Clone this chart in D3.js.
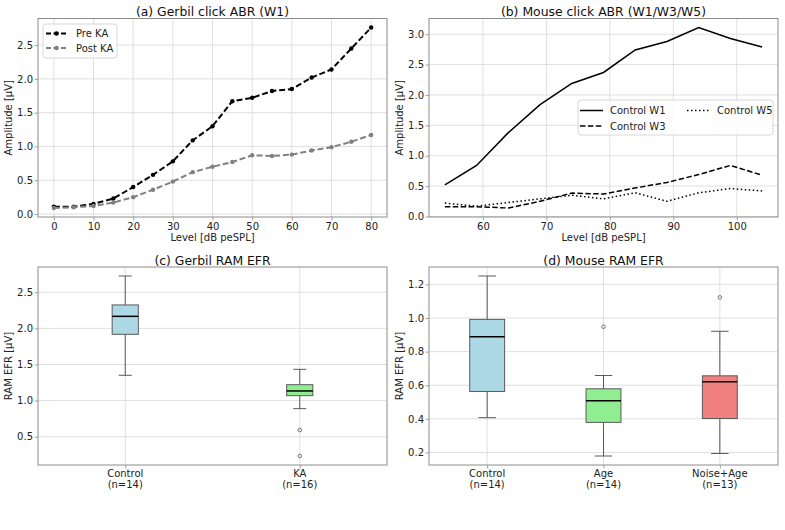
<!DOCTYPE html>
<html>
<head>
<meta charset="utf-8">
<script src="https://cdn.jsdelivr.net/npm/d3@7"></script>
<style>
  body { margin: 0; background: #fff; }
  text { font-family: "DejaVu Sans", sans-serif; }
</style>
</head>
<body>
<script>
const width = 785;
const height = 530;

// (a) gerbil click ABR, wave 1
const gerbilLevels = [0, 5, 10, 15, 20, 25, 30, 35, 40, 45, 50, 55, 60, 65, 70, 75, 80];
const preKA = [0.11, 0.11, 0.15, 0.23, 0.40, 0.58, 0.78, 1.09, 1.30, 1.67, 1.72, 1.82, 1.85, 2.02, 2.14, 2.45, 2.76];
const postKA = [0.09, 0.10, 0.12, 0.17, 0.25, 0.36, 0.48, 0.62, 0.70, 0.77, 0.87, 0.86, 0.88, 0.94, 0.99, 1.07, 1.17];

// (b) mouse click ABR, waves 1/3/5
const mouseLevels = [54, 59, 64, 69, 74, 79, 84, 89, 94, 99, 104];
const controlW1 = [0.52, 0.84, 1.38, 1.84, 2.19, 2.37, 2.74, 2.88, 3.11, 2.93, 2.79];
const controlW3 = [0.16, 0.16, 0.14, 0.25, 0.385, 0.37, 0.47, 0.56, 0.69, 0.84, 0.68];
const controlW5 = [0.22, 0.17, 0.23, 0.29, 0.35, 0.29, 0.39, 0.25, 0.39, 0.46, 0.42];

// (c) gerbil RAM EFR box stats
const gerbilGroups = ["Control", "KA"];
const gerbilCounts = ["(n=14)", "(n=16)"];
const gerbilColors = ["#add8e6", "#90ee90"];
const gerbilBoxes = [
  { lo: 1.35, q1: 1.918, med: 2.167, q3: 2.325, hi: 2.726, out: [] },
  { lo: 0.888, q1: 1.068, med: 1.133, q3: 1.22, hi: 1.433, out: [0.592, 0.232] }
];

// (d) mouse RAM EFR box stats
const mouseGroups = ["Control", "Age", "Noise+Age"];
const mouseCounts = ["(n=14)", "(n=14)", "(n=13)"];
const mouseColors = ["#add8e6", "#90ee90", "#f08080"];
const mouseBoxes = [
  { lo: 0.407, q1: 0.563, med: 0.889, q3: 0.992, hi: 1.25, out: [] },
  { lo: 0.179, q1: 0.379, med: 0.507, q3: 0.579, hi: 0.658, out: [0.948] },
  { lo: 0.194, q1: 0.402, med: 0.621, q3: 0.656, hi: 0.921, out: [1.123] }
];

const svg = d3.select("body").append("svg")
  .attr("width", width)
  .attr("height", height)
  .style("background", "#fff");

const gridColor = "#dcdcdc";
const spineColor = "#8c8c8c";
const txt = "#222";

function pad(lo, hi) {
  const m = (hi - lo) * 0.05;
  return [lo - m, hi + m];
}

function frame(box, x, y, xTicks, yTicks, yFmt, title, xLabel, yLabel, xTickFmt) {
  const g = svg.append("g");

  // grid
  g.append("g").selectAll("line").data(xTicks).join("line")
    .attr("x1", d => x(d)).attr("x2", d => x(d))
    .attr("y1", box.y0).attr("y2", box.y1)
    .attr("stroke", gridColor).attr("stroke-width", 0.9);
  g.append("g").selectAll("line").data(yTicks).join("line")
    .attr("x1", box.x0).attr("x2", box.x1)
    .attr("y1", d => y(d)).attr("y2", d => y(d))
    .attr("stroke", gridColor).attr("stroke-width", 0.9);

  // axes
  const xa = g.append("g")
    .attr("transform", `translate(0,${box.y1})`)
    .call(d3.axisBottom(x).tickValues(xTicks).tickSize(3.5).tickPadding(2).tickFormat(xTickFmt || d3.format("d")));
  const ya = g.append("g")
    .attr("transform", `translate(${box.x0},0)`)
    .call(d3.axisLeft(y).tickValues(yTicks).tickSize(3.5).tickPadding(1.5).tickFormat(yFmt));
  [xa, ya].forEach(a => {
    a.select(".domain").remove();
    a.selectAll(".tick line").attr("stroke", spineColor).attr("stroke-width", 0.8);
    a.selectAll(".tick text").attr("fill", txt).style("font-size", "10px");
  });

  // title and labels
  g.append("text")
    .attr("x", (box.x0 + box.x1) / 2).attr("y", box.y0 - 2.5)
    .attr("text-anchor", "middle").style("font-size", "12.4px").attr("fill", "#111")
    .text(title);
  if (xLabel) {
    g.append("text")
      .attr("x", (box.x0 + box.x1) / 2).attr("y", box.y1 + 24)
      .attr("text-anchor", "middle").style("font-size", "10px").attr("fill", txt)
      .text(xLabel);
  }
  g.append("text")
    .attr("transform", `translate(${box.x0 - 26},${(box.y0 + box.y1) / 2}) rotate(-90)`)
    .attr("text-anchor", "middle").style("font-size", "10px").attr("fill", txt)
    .text(yLabel);
  return g;
}

function spines(box) {
  svg.append("rect")
    .attr("x", box.x0).attr("y", box.y0)
    .attr("width", box.x1 - box.x0).attr("height", box.y1 - box.y0)
    .attr("fill", "none").attr("stroke", spineColor).attr("stroke-width", 1);
}

const fmt1 = d3.format(".1f");

// ---------- (a) ----------
const pa = { x0: 38, x1: 387, y0: 18.5, y1: 217 };
const xa = d3.scaleLinear().domain(pad(0, 80)).range([pa.x0, pa.x1]);
const ya = d3.scaleLinear().domain(pad(d3.min(postKA), d3.max(preKA))).range([pa.y1, pa.y0]);
frame(pa, xa, ya, [0, 10, 20, 30, 40, 50, 60, 70, 80], [0, 0.5, 1, 1.5, 2, 2.5], fmt1,
  "(a) Gerbil click ABR (W1)", "Level [dB peSPL]", "Amplitude [µV]");

const lineA = d3.line().x(d => xa(d[0])).y(d => ya(d[1]));
[[preKA, "#000"], [postKA, "#808080"]].forEach(([vals, col]) => {
  const pts = gerbilLevels.map((l, i) => [l, vals[i]]);
  svg.append("path").datum(pts).attr("d", lineA)
    .attr("fill", "none").attr("stroke", col).attr("stroke-width", 2)
    .attr("stroke-dasharray", "6,2.8");
  svg.append("g").selectAll("circle").data(pts).join("circle")
    .attr("cx", d => xa(d[0])).attr("cy", d => ya(d[1])).attr("r", 2.2)
    .attr("fill", col);
});
spines(pa);

// legend (a)
const lgA = svg.append("g");
lgA.append("rect").attr("x", 43).attr("y", 24).attr("width", 74).attr("height", 34).attr("rx", 3)
  .attr("fill", "#fff").attr("fill-opacity", 0.85).attr("stroke", "#d8d8d8");
[["Pre KA", "#000"], ["Post KA", "#808080"]].forEach(([name, col], i) => {
  const yy = 33.5 + i * 14.5;
  lgA.append("line").attr("x1", 46).attr("x2", 67).attr("y1", yy).attr("y2", yy)
    .attr("stroke", col).attr("stroke-width", 2).attr("stroke-dasharray", "5,2.5");
  lgA.append("circle").attr("cx", 56.5).attr("cy", yy).attr("r", 2.2).attr("fill", col);
  lgA.append("text").attr("x", 76).attr("y", yy + 3.6).style("font-size", "10px").attr("fill", txt).text(name);
});

// ---------- (b) ----------
const pb = { x0: 429, x1: 778, y0: 18.5, y1: 217 };
const xb = d3.scaleLinear().domain(pad(54, 104)).range([pb.x0, pb.x1]);
const yb = d3.scaleLinear().domain(pad(d3.min(controlW3), d3.max(controlW1))).range([pb.y1, pb.y0]);
frame(pb, xb, yb, [60, 70, 80, 90, 100], [0, 0.5, 1, 1.5, 2, 2.5, 3], fmt1,
  "(b) Mouse click ABR (W1/W3/W5)", "Level [dB peSPL]", "Amplitude [µV]");

const lineB = d3.line().x(d => xb(d[0])).y(d => yb(d[1]));
const mouseSeries = [
  { name: "Control W1", vals: controlW1, dash: null },
  { name: "Control W3", vals: controlW3, dash: "5.5,2.4" },
  { name: "Control W5", vals: controlW5, dash: "1.5,2.5" }
];
mouseSeries.forEach(s => {
  const pts = mouseLevels.map((l, i) => [l, s.vals[i]]);
  svg.append("path").datum(pts).attr("d", lineB)
    .attr("fill", "none").attr("stroke", "#000").attr("stroke-width", 1.5)
    .attr("stroke-dasharray", s.dash);
});
spines(pb);

// legend (b), two columns
const lgB = svg.append("g");
lgB.append("rect").attr("x", 578).attr("y", 100).attr("width", 195).attr("height", 35).attr("rx", 3)
  .attr("fill", "#fff").attr("fill-opacity", 0.85).attr("stroke", "#d8d8d8");
const lgPos = [[580, 110.5], [580, 126], [687, 110.5]];
mouseSeries.forEach((s, i) => {
  const [lx, ly] = lgPos[i];
  lgB.append("line").attr("x1", lx).attr("x2", lx + 23).attr("y1", ly).attr("y2", ly)
    .attr("stroke", "#000").attr("stroke-width", 1.5).attr("stroke-dasharray", s.dash);
  lgB.append("text").attr("x", lx + 30).attr("y", ly + 3.6).style("font-size", "10px").attr("fill", txt).text(s.name);
});

// ---------- box plots ----------
function boxPanel(box, groups, counts, colors, stats, yTicks, yFmt, title) {
  const n = groups.length;
  const x = d3.scaleLinear().domain([0.5, n + 0.5]).range([box.x0, box.x1]);
  const allVals = stats.flatMap(s => [s.lo, s.hi, ...s.out]);
  const y = d3.scaleLinear().domain(pad(d3.min(allVals), d3.max(allVals))).range([box.y1, box.y0]);
  const pos = d3.range(1, n + 1);
  const g = frame(box, x, y, pos, yTicks, yFmt, title, null, "RAM EFR [µV]", () => "");

  // two-line category labels
  g.append("g").selectAll("text").data(pos).join("text")
    .attr("x", d => x(d)).attr("y", box.y1 + 12)
    .attr("text-anchor", "middle").style("font-size", "10px").attr("fill", txt)
    .each(function (d, i) {
      const t = d3.select(this);
      t.append("tspan").attr("x", x(d)).attr("dy", 0).text(groups[i]);
      t.append("tspan").attr("x", x(d)).attr("dy", 11.2).text(counts[i]);
    });

  const w = Math.min(0.15 * Math.max(n - 1, 1), 0.5);
  const half = (x(w) - x(0)) / 2;
  const edge = "#5a5a5a";
  stats.forEach((s, i) => {
    const cx = x(pos[i]);
    const bg = svg.append("g");
    bg.append("line").attr("x1", cx).attr("x2", cx).attr("y1", y(s.hi)).attr("y2", y(s.q3))
      .attr("stroke", edge).attr("stroke-width", 1);
    bg.append("line").attr("x1", cx).attr("x2", cx).attr("y1", y(s.q1)).attr("y2", y(s.lo))
      .attr("stroke", edge).attr("stroke-width", 1);
    [s.hi, s.lo].forEach(v => {
      bg.append("line").attr("x1", cx - half / 2).attr("x2", cx + half / 2).attr("y1", y(v)).attr("y2", y(v))
        .attr("stroke", edge).attr("stroke-width", 1);
    });
    bg.append("rect").attr("x", cx - half).attr("y", y(s.q3))
      .attr("width", half * 2).attr("height", y(s.q1) - y(s.q3))
      .attr("fill", colors[i]).attr("stroke", edge).attr("stroke-width", 1);
    bg.append("line").attr("x1", cx - half).attr("x2", cx + half).attr("y1", y(s.med)).attr("y2", y(s.med))
      .attr("stroke", "#000").attr("stroke-width", 1.5);
    bg.selectAll("circle").data(s.out).join("circle")
      .attr("cx", cx).attr("cy", d => y(d)).attr("r", 1.8)
      .attr("fill", "none").attr("stroke", "#555").attr("stroke-width", 0.8);
  });
  spines(box);
}

boxPanel({ x0: 38, x1: 387, y0: 267, y1: 465 }, gerbilGroups, gerbilCounts, gerbilColors, gerbilBoxes,
  [0.5, 1, 1.5, 2, 2.5], fmt1, "(c) Gerbil RAM EFR");
boxPanel({ x0: 429, x1: 778, y0: 267, y1: 465 }, mouseGroups, mouseCounts, mouseColors, mouseBoxes,
  [0.2, 0.4, 0.6, 0.8, 1.0, 1.2], fmt1, "(d) Mouse RAM EFR");
</script>
</body>
</html>
